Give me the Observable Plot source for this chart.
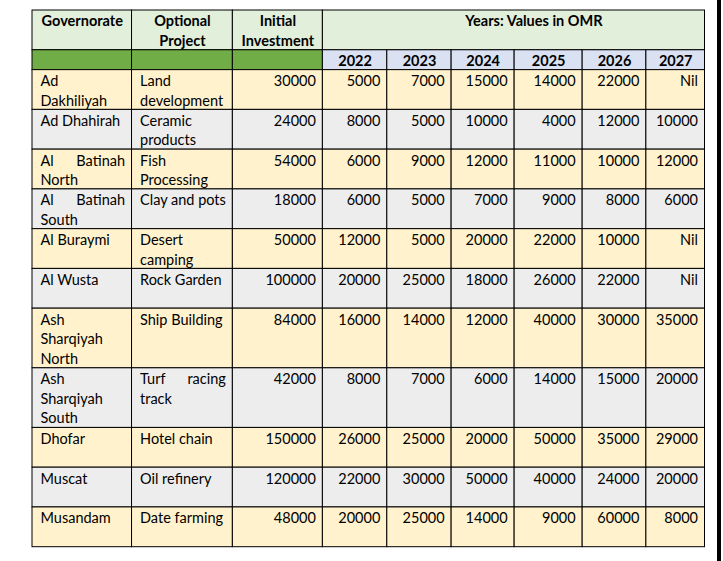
<!DOCTYPE html>
<html><head><meta charset="utf-8">
<script src="https://cdn.jsdelivr.net/npm/d3@7"></script>
<script src="https://cdn.jsdelivr.net/npm/@observablehq/plot@0.6"></script>
<style>
html,body{margin:0;padding:0;background:#fff;}
#wrap{position:relative;width:723px;height:561px;overflow:hidden;background:#fff;}
#wrap svg{position:absolute;left:0;top:0;}
#bar{position:absolute;left:717px;top:0;width:4px;height:561px;background:#000;}
</style></head><body><div id="wrap"><div id="bar"></div></div>
<script>
// ---------- data ----------
const headers = ["Governorate", "Optional\nProject", "Initial\nInvestment"];
const yearsTitle = "Years: Values in OMR";
const years = [2022, 2023, 2024, 2025, 2026, 2027];
const governorates = ["Ad\nDakhiliyah", "Ad Dhahirah", "Al Batinah\nNorth", "Al Batinah\nSouth", "Al Buraymi", "Al Wusta", "Ash\nSharqiyah\nNorth", "Ash\nSharqiyah\nSouth", "Dhofar", "Muscat", "Musandam"];
const projects = ["Land\ndevelopment", "Ceramic\nproducts", "Fish\nProcessing", "Clay and pots", "Desert\ncamping", "Rock Garden", "Ship Building", "Turf racing\ntrack", "Hotel chain", "Oil refinery", "Date farming"];
const investment = [30000, 24000, 54000, 18000, 50000, 100000, 84000, 42000, 150000, 120000, 48000];
const v2022 = [5000, 8000, 6000, 6000, 12000, 20000, 16000, 8000, 26000, 22000, 20000];
const v2023 = [7000, 5000, 9000, 5000, 5000, 25000, 14000, 7000, 25000, 30000, 25000];
const v2024 = [15000, 10000, 12000, 7000, 20000, 18000, 12000, 6000, 20000, 50000, 14000];
const v2025 = [14000, 4000, 11000, 9000, 22000, 26000, 40000, 14000, 50000, 40000, 9000];
const v2026 = [22000, 12000, 10000, 8000, 10000, 22000, 30000, 15000, 35000, 24000, 60000];
const v2027 = [null, 10000, 12000, 6000, null, null, 35000, 20000, 29000, 20000, 8000];
const missingLabel = "Nil";

// ---------- layout ----------
const colWidths = [99.5, 100.8, 90, 64.4, 64.3, 63, 68, 63.7, 58.6];
const colEdges = Array.from(d3.cumsum([0, ...colWidths]));
const padL = 8, padR = 7;
const C = {hdr: "#e2efda", green: "#70ad47", blue: "#d9e1f2", odd: "#fff2cc", even: "#ededed"};
const yearVals = [v2022, v2023, v2024, v2025, v2026, v2027];
const nLines = s => String(s).split("\n").length;
const bodyUnits = governorates.map((g, i) => Math.max(2, nLines(g), nLines(projects[i])));
const rowUnits = [2, 1, ...bodyUnits];
const rowEdges = Array.from(d3.cumsum([0, ...rowUnits]));
const totalUnits = rowEdges[rowEdges.length - 1];

const cells = [];
const texts = [];
function addText(label, c1, c2, rowTop, align, bold, dx = 0) {
  const lines = String(label).split("\n");
  lines.forEach((line, j) => {
    const y = rowTop + 0.8 + j * 0.98;
    const words = line.split(" ");
    if (align === "start" && j < lines.length - 1 && words.length === 2) {
      texts.push({x: colEdges[c1] + padL, y, t: words[0], a: "start", b: bold});
      texts.push({x: colEdges[c2] - padR, y, t: words[1], a: "end", b: bold});
    } else {
      const x = align === "start" ? colEdges[c1] + padL : align === "end" ? colEdges[c2] - padR : (colEdges[c1] + colEdges[c2]) / 2 + dx;
      texts.push({x, y, t: line, a: align, b: bold});
    }
  });
}
// header row 1
headers.forEach((h, c) => {
  cells.push({x1: colEdges[c], x2: colEdges[c + 1], y1: rowEdges[0], y2: rowEdges[1], fill: C.hdr});
  addText(h, c, c + 1, rowEdges[0], "middle", true);
});
cells.push({x1: colEdges[3], x2: colEdges[9], y1: rowEdges[0], y2: rowEdges[1], fill: C.hdr});
addText(yearsTitle, 3, 9, rowEdges[0], "middle", true, 20);
// header row 2
for (let c = 0; c < 9; c++) {
  cells.push({x1: colEdges[c], x2: colEdges[c + 1], y1: rowEdges[1], y2: rowEdges[2], fill: c < 3 ? C.green : C.blue});
  if (c >= 3) addText(String(years[c - 3]), c, c + 1, rowEdges[1], "middle", true);
}
// body
governorates.forEach((g, i) => {
  const top = rowEdges[i + 2], bot = rowEdges[i + 3];
  const fill = i % 2 === 0 ? C.odd : C.even;
  for (let c = 0; c < 9; c++) cells.push({x1: colEdges[c], x2: colEdges[c + 1], y1: top, y2: bot, fill});
  addText(g, 0, 1, top, "start", false);
  addText(projects[i], 1, 2, top, "start", false);
  addText(String(investment[i]), 2, 3, top, "end", false);
  yearVals.forEach((arr, k) => addText(arr[i] == null ? missingLabel : String(arr[i]), 3 + k, 4 + k, top, "end", false));
});

const textMark = (a, b) => Plot.text(texts.filter(d => d.a === a && d.b === b), {
  x: "x", y: "y", text: "t", textAnchor: a, lineAnchor: "bottom",
  fill: "#000", fontWeight: b ? "bold" : "normal", fontSize: 14.5
});

const chart = Plot.plot({
  width: 723, height: 561,
  margin: 0,
  style: {fontFamily: "Lato, sans-serif", fontSize: "14.5px", background: "transparent"},
  x: {type: "linear", domain: [0, colEdges[9]], range: [32, 704.5], axis: null},
  y: {type: "linear", domain: [0, totalUnits], range: [10, 546.7], axis: null},
  color: {type: "identity"},
  marks: [
    Plot.rect(cells, {x1: "x1", x2: "x2", y1: "y1", y2: "y2", fill: "fill", stroke: "#000", strokeWidth: 1}),
    textMark("start", false), textMark("end", false), textMark("middle", false),
    textMark("start", true), textMark("end", true), textMark("middle", true)
  ]
});
document.getElementById("wrap").prepend(chart);
</script></body></html>
